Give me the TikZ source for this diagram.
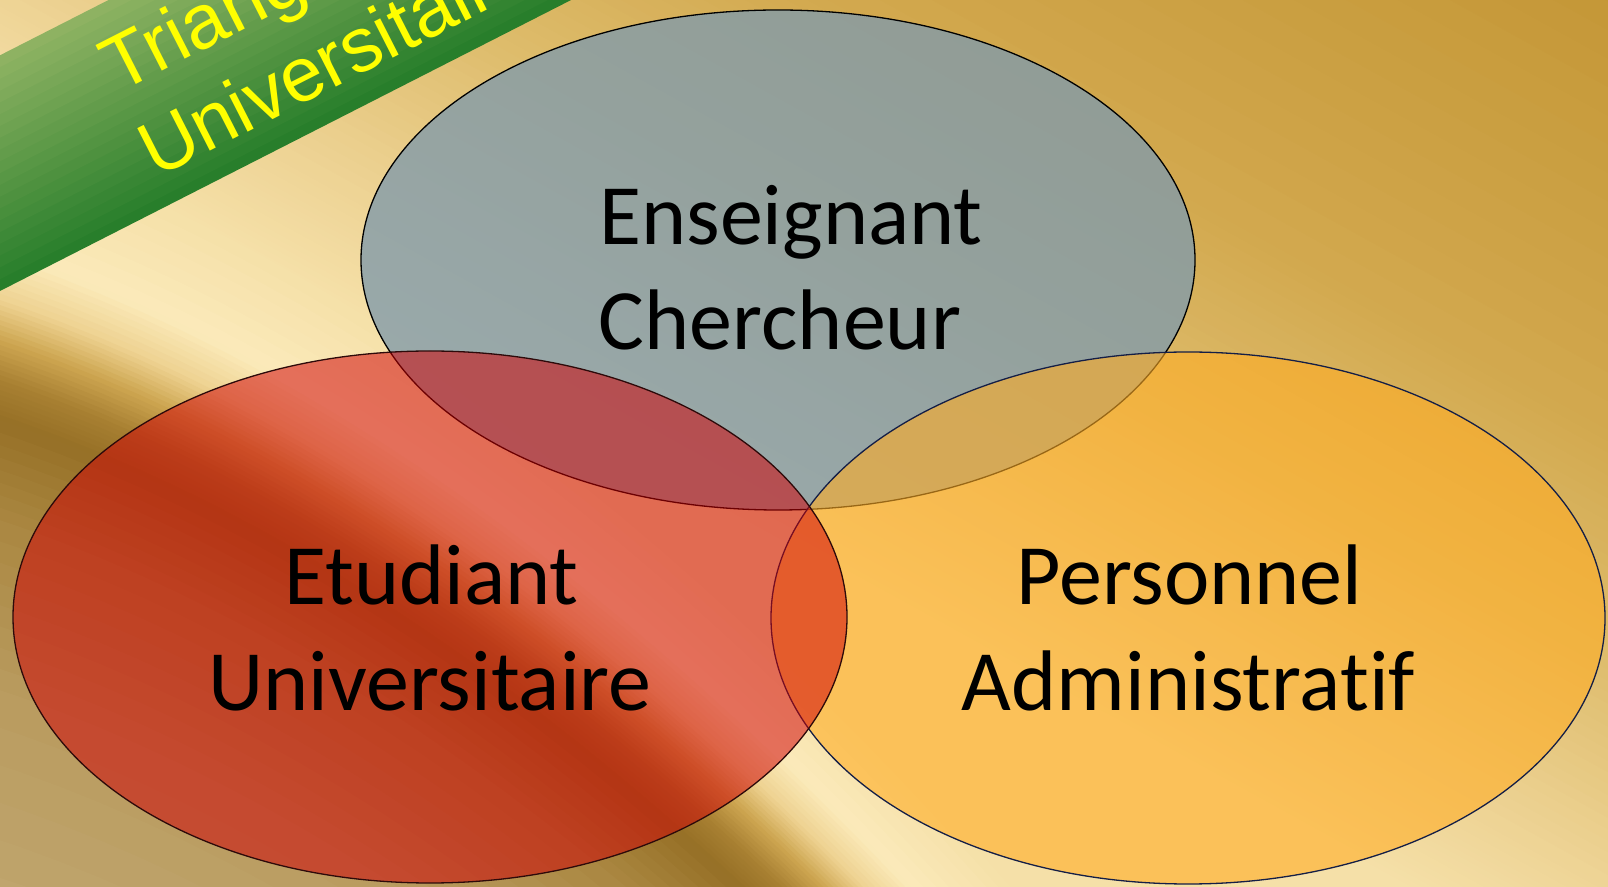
\documentclass[tikz,border=0pt]{standalone}
\usepackage{fontspec}
\setmainfont{Carlito}[Ligatures=NoCommon]
\newfontfamily\ribbonfont{Liberation Sans}
\usetikzlibrary{shapes.geometric}
\definecolor{bgA}{RGB}{245,224,168}
\definecolor{bgB}{RGB}{238,212,150}
\definecolor{bgC}{RGB}{222,188,108}
\definecolor{bgD}{RGB}{210,168,78}
\definecolor{bgE}{RGB}{192,146,48}
\definecolor{fA}{RGB}{245,224,168}
\definecolor{fB}{RGB}{251,234,186}
\definecolor{fC}{RGB}{238,210,145}
\definecolor{fD}{RGB}{205,165,80}
\definecolor{fE}{RGB}{168,128,50}
\definecolor{fF}{RGB}{150,112,38}
\definecolor{fG}{RGB}{170,135,65}
\definecolor{fH}{RGB}{185,155,95}
\definecolor{fI}{RGB}{195,170,115}
\definecolor{gDark}{RGB}{38,125,42}
\definecolor{gLight}{RGB}{145,180,100}
\definecolor{grayfill}{RGB}{130,155,170}
\definecolor{orangefill}{RGB}{255,173,37}
\definecolor{redfill}{RGB}{208,0,4}
\definecolor{navyline}{RGB}{20,30,70}
\definecolor{redline}{RGB}{45,10,10}
\definecolor{ribbontext}{RGB}{255,255,0}
\begin{document}
\begin{tikzpicture}[x=1pt,y=1pt,
  declare function={fold(\t)=340+0.337*\t+(0.01995*\t)*(0.01995*\t);},
  venn/.style={ellipse, inner sep=0pt, outer sep=0pt, line width=1.3pt},
  vtext/.style={anchor=base, inner sep=0pt, font=\fontsize{86}{100}\selectfont, text=black},
  ribbonlabel/.style={anchor=base west, inner sep=0pt, transform shape, font=\ribbonfont\fontsize{77}{90}\selectfont, text=ribbontext}]
\useasboundingbox (0,0) rectangle (1608,886);
\clip (0,0) rectangle (1608,886);
% base golden gradient
\begin{scope}[shift={(0,886)}, rotate=-28.86]
  \fill[bgA] (-200,-1000) rectangle (2000,-99);
  \foreach \sa/\sb/\ca/\cb in {-100/0/bgA/bgB, 0/200/bgB/bgC, 200/400/bgC/bgD, 400/900/bgD/bgE}{
    \foreach \i in {0,...,19}{
      \pgfmathsetmacro{\lo}{\sa+(\sb-\sa)*\i/20}
      \pgfmathsetmacro{\hi}{\sa+(\sb-\sa)*(\i+1)/20+1}
      \pgfmathtruncatemacro{\p}{(\i+0.5)*5}
      \colorlet{tmpc}{\cb!\p!\ca}
      \fill[tmpc] (-200,\lo) rectangle (2000,\hi);
    }
  }
\end{scope}
% folded light/dark band
\foreach \va/\vb/\ca/\cb in {-200/-90/fA/fB, -90/-40/fB/fC, -40/0/fC/fD, 0/40/fD/fE, 40/80/fE/fF, 80/180/fF/fG, 180/350/fG/fH, 350/650/fH/fI}{
  \foreach \i in {0,...,7}{
    \pgfmathsetmacro{\lo}{\va+(\vb-\va)*\i/8}
    \pgfmathsetmacro{\hi}{\va+(\vb-\va)*(\i+1)/8+1.5}
    \pgfmathtruncatemacro{\p}{(\i+0.5)*12.5}
    \colorlet{tmpc}{\cb!\p!\ca}
    \fill[tmpc] plot[domain=-20:1060, samples=28] (\x,{886-fold(\x)-(\lo)})
      -- plot[domain=1060:-20, samples=28] (\x,{886-fold(\x)-(\hi)}) -- cycle;
  }
}
% green ribbon
\begin{scope}[shift={(0,595)}, rotate=27]
  \foreach \i in {0,...,19}{
    \pgfmathsetmacro{\lo}{210*\i/20}
    \pgfmathsetmacro{\hi}{210*(\i+1)/20+(\i<19 ? 0.8 : 0)}
    \pgfmathtruncatemacro{\p}{(\i+0.5)*5}
    \colorlet{tmpc}{gLight!\p!gDark}
    \fill[tmpc] (-400,\lo) rectangle (900,\hi);
  }
  \node[ribbonlabel] (rib1) at (195,122) {Triangle};
  \node[ribbonlabel] (rib2) at (190,29) {Universitaire};
\end{scope}
% Venn ellipses
\node[venn, draw=black, fill=grayfill, fill opacity=0.8, minimum width=834pt, minimum height=500pt] (ens) at (778,626) {};
\node[venn, draw=navyline, fill=orangefill, fill opacity=0.6, minimum width=834pt, minimum height=532pt] (per) at (1188,268) {};
\node[venn, draw=redline, fill=redfill, fill opacity=0.52, minimum width=834pt, minimum height=532pt] (etu) at (430,269) {};
% labels
\node[vtext] (ens1) at (791,641) {Enseignant};
\node[vtext] (ens2) at (780,536) {Chercheur};
\node[vtext] (etu1) at (431.5,281) {Etudiant};
\node[vtext] (etu2) at (430,175) {Universitaire};
\node[vtext] (per1) at (1189.5,281) {Personnel};
\node[vtext] (per2) at (1188.5,175) {Administratif};
\end{tikzpicture}
\end{document}
